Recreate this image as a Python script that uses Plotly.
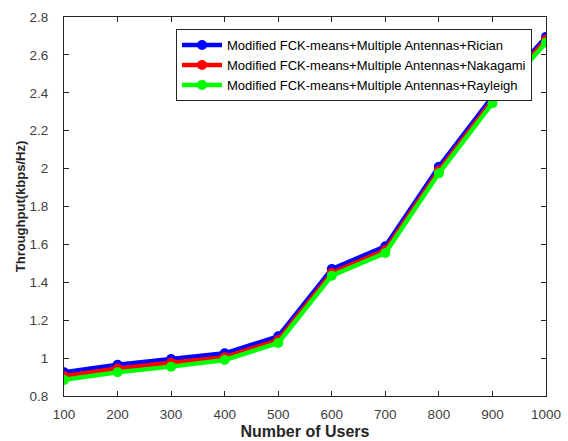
import plotly.graph_objects as go

users = [100, 200, 300, 400, 500, 600, 700, 800, 900, 1000]
rician = [0.925, 0.965, 0.995, 1.025, 1.115, 1.47, 1.59, 2.01, 2.38, 2.695]
nakagami = [0.905, 0.945, 0.975, 1.005, 1.095, 1.45, 1.57, 1.99, 2.36, 2.68]
rayleigh = [0.885, 0.925, 0.955, 0.99, 1.08, 1.435, 1.555, 1.975, 2.345, 2.665]

names = ["Modified FCK-means+Multiple Antennas+Rician",
         "Modified FCK-means+Multiple Antennas+Nakagami",
         "Modified FCK-means+Multiple Antennas+Rayleigh"]
colors = ["#0000FF", "#FF0000", "#00FF00"]
series = [rician, nakagami, rayleigh]

fig = go.Figure()
for n, c, s in zip(names, colors, series):
    fig.add_trace(go.Scatter(x=users, y=s, name=n, mode="lines+markers",
                             line=dict(color=c, width=4.5),
                             marker=dict(color=c, size=10, symbol="circle")))

axis_common = dict(showline=True, linecolor="#262626", linewidth=1, mirror="ticks",
                   ticks="inside", ticklen=5, tickcolor="#262626", showgrid=False,
                   zeroline=False, automargin=False,
                   tickfont=dict(family="Arial", size=13.5, color="#404040"))

fig.update_layout(
    width=568, height=441,
    margin=dict(l=64, r=22, t=17, b=45),
    paper_bgcolor="white", plot_bgcolor="white",
    xaxis=dict(range=[100, 1000], tickvals=users, ticklabelstandoff=6,
               title=dict(text="<b>Number of Users</b>",
               font=dict(family="Arial", size=16, color="#262626"), standoff=4), **axis_common),
    yaxis=dict(range=[0.8, 2.8], dtick=0.2, tickformat="~g", ticklabelstandoff=12,
               title=dict(text="<b>Throughput(kbps/Hz)</b>",
               font=dict(family="Arial", size=13, color="#262626"), standoff=0), **axis_common),
    legend=dict(x=0.971, y=0.968, xanchor="right", yanchor="top", bgcolor="white",
                bordercolor="#262626", borderwidth=1, font=dict(family="Arial", size=13, color="#000000"),
                tracegroupgap=0, itemwidth=40),
    showlegend=True,
)

fig.write_html("out.html")
